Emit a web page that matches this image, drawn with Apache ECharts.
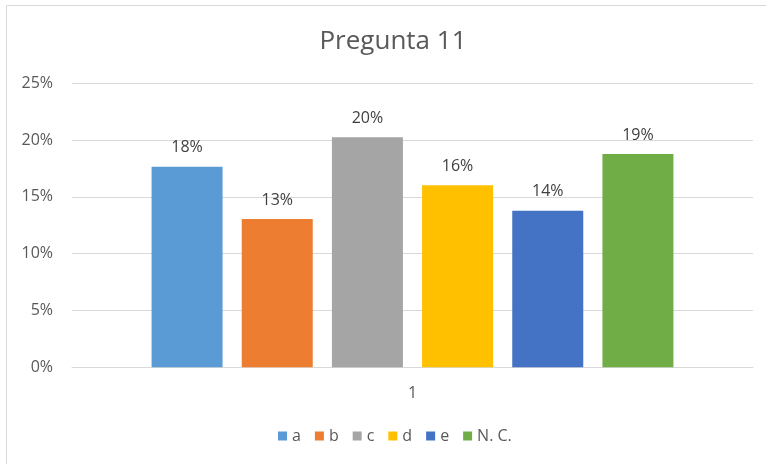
<!DOCTYPE html>
<html>
<head>
<meta charset="utf-8">
<script src="https://cdn.jsdelivr.net/npm/echarts@6/dist/echarts.min.js"></script>
<style>
html,body{margin:0;padding:0;background:#fff;}
#chart{width:766px;height:464px;}
</style>
</head>
<body>
<div id="chart"></div>
<script>
const categories = ['1'];
const seriesNames = ['a', 'b', 'c', 'd', 'e', 'N. C.'];
const seriesValues = [0.1766, 0.1305, 0.2025, 0.1602, 0.1379, 0.1878];
const seriesColors = ['#5B9BD5', '#ED7D31', '#A5A5A5', '#FFC000', '#4472C4', '#70AD47'];
const yTicks = [0, 0.05, 0.10, 0.15, 0.20, 0.25];

const fontFam = '"Open Sans", "Noto Sans", sans-serif';
const chart = echarts.init(document.getElementById('chart'), null, {renderer: 'canvas'});
chart.setOption({
  backgroundColor: '#fff',
  animation: false,
  title: {
    text: 'Pregunta 11',
    left: 388, top: 24, textAlign: 'center',
    textStyle: {fontFamily: fontFam, fontSize: 26, fontWeight: 'normal', color: '#595959'}
  },
  graphic: [{
    type: 'rect', shape: {x: 6.5, y: 5.5, width: 800, height: 500},
    style: {fill: 'none', stroke: '#D9D9D9', lineWidth: 1}, silent: true
  }],
  legend: {
    data: seriesNames,
    left: 278, top: 428, padding: 0,
    itemWidth: 9, itemHeight: 9, itemGap: 14,
    icon: 'rect',
    textStyle: {fontFamily: fontFam, fontSize: 16, color: '#595959'}
  },
  grid: {left: 72, right: 13, top: 83.3, bottom: 96.7, containLabel: false},
  xAxis: {
    type: 'category', data: categories,
    axisLine: {lineStyle: {color: '#D9D9D9'}},
    axisTick: {show: false},
    axisLabel: {fontFamily: fontFam, fontSize: 16, color: '#595959', margin: 18}
  },
  yAxis: {
    type: 'value', min: yTicks[0], max: yTicks[yTicks.length - 1], interval: 0.05,
    axisLine: {show: false}, axisTick: {show: false},
    splitLine: {lineStyle: {color: '#D9D9D9'}},
    axisLabel: {fontFamily: fontFam, fontSize: 16, color: '#595959', margin: 19,
      formatter: v => Math.round(v * 100) + '%'}
  },
  series: seriesNames.map((n, i) => ({
    name: n, type: 'bar', data: [seriesValues[i]],
    barWidth: 71, barGap: '27%',
    itemStyle: {color: seriesColors[i]},
    label: {show: true, position: 'top', distance: 11,
      fontFamily: fontFam, fontSize: 16, color: '#404040',
      formatter: p => Math.round(p.value * 100) + '%'}
  }))
});
</script>
</body>
</html>
